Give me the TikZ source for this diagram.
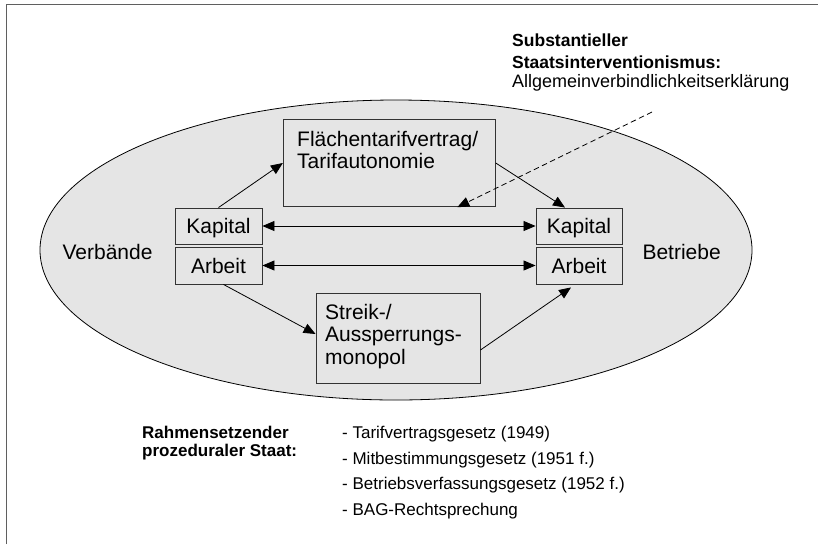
\documentclass[tikz,border=0pt]{standalone}
\usepackage{fontspec}
\setmainfont{Liberation Sans}
\usetikzlibrary{arrows.meta}
\definecolor{ellgray}{RGB}{229,229,229}
\definecolor{framegray}{RGB}{95,95,95}
\begin{document}
\begin{tikzpicture}[x=1pt,y=-1pt,
  box/.style={draw=black!80,line width=0.9pt,rectangle,inner sep=0pt},
  boxtxt/.style={font=\fontsize{21}{25}\selectfont,inner sep=0pt},
  smallbox/.style={box,boxtxt,minimum width=87pt,text height=15.5pt,text depth=0pt},
  lbl/.style={font=\fontsize{21}{25}\selectfont,inner sep=0pt},
  toptxt/.style={font=\fontsize{17.5}{21}\selectfont,inner sep=0pt,anchor=base west},
  bottxt/.style={font=\fontsize{17}{20}\selectfont,inner sep=0pt,anchor=base west},
  tip/.style={-{Triangle[length=12pt,width=10pt]}},
  arr/.style={line width=0.8pt,tip},
  darr/.style={line width=0.8pt,{Triangle[length=12pt,width=10pt]}-{Triangle[length=12pt,width=10pt]}},
  dasharr/.style={line width=0.8pt,dash pattern=on 5.5pt off 3.5pt,tip},
]
\useasboundingbox (0,0) rectangle (818,544);
\draw[framegray,line width=1.6pt] (6.5,544) -- (6.5,4.5) -- (818,4.5);

% ellipse
\draw[fill=ellgray,line width=0.8pt] (396,250) ellipse [x radius=356pt,y radius=150pt];

% boxes
\node[box,minimum width=212pt,minimum height=87.5pt] (fl) at (389.3,163) {};
\node[boxtxt,anchor=base west] (fl1) at (297,146) {Flächentarifvertrag/};
\node[boxtxt,anchor=base west] (fl2) at (297,168.5) {Tarifautonomie};

\node[box,minimum width=164pt,minimum height=90pt] (st) at (398,338) {};
\node[boxtxt,anchor=base west] (st1) at (325,319) {Streik-/};
\node[boxtxt,anchor=base west] (st2) at (325,341.7) {Aussperrungs-};
\node[boxtxt,anchor=base west] (st3) at (325,364.4) {monopol};

\node[smallbox,minimum height=36pt] (lk) at (218.5,226) {Kapital};
\node[smallbox,minimum height=37pt] (la) at (218.5,265.5) {Arbeit};
\node[smallbox,minimum width=86pt,minimum height=36pt] (rk) at (579,226) {Kapital};
\node[smallbox,minimum width=86pt,minimum height=37pt] (ra) at (579,265.5) {Arbeit};

\node[lbl,anchor=base east] (verb) at (152.7,259.3) {Verbände};
\node[lbl,anchor=base west] (betr) at (642.3,259.3) {Betriebe};

% arrows
\draw[arr] (lk.north) -- (fl.west);
\draw[arr] (fl.east) -- ([xshift=-14pt]rk.north);
\draw[arr] ([xshift=5pt]la.south) -- ([yshift=4pt]st.west);
\draw[arr] ([yshift=-12pt]st.east) -- ([xshift=-8pt,yshift=-3pt]ra.south);
\draw[darr] (lk.east) -- (rk.west);
\draw[darr] (la.east) -- (ra.west);

\coordinate (dstart) at (652,112);
\draw[dasharr] (dstart) -- ([xshift=68pt]fl.south);

% top text
\node[toptxt,font=\fontsize{17.5}{21}\selectfont\bfseries] (t1) at (512,46.7) {Substantieller};
\node[toptxt,font=\fontsize{17.5}{21}\selectfont\bfseries] (t2) at (512,68.3) {Staatsinterventionismus:};
\node[toptxt,font=\fontsize{18}{21}\selectfont] (t3) at (512,87) {Allgemeinverbindlichkeitserklärung};

% bottom text
\node[bottxt,font=\fontsize{17}{20}\selectfont\bfseries] (b1) at (142,438.5) {Rahmensetzender};
\node[bottxt,font=\fontsize{17}{20}\selectfont\bfseries] (b2) at (142,456.5) {prozeduraler Staat:};
\node[bottxt] (l1) at (342,438.5) {- Tarifvertragsgesetz (1949)};
\node[bottxt] (l2) at (342,464) {- Mitbestimmungsgesetz (1951 f.)};
\node[bottxt] (l3) at (342,489.5) {- Betriebsverfassungsgesetz (1952 f.)};
\node[bottxt] (l4) at (342,515) {- BAG-Rechtsprechung};
\end{tikzpicture}
\end{document}
